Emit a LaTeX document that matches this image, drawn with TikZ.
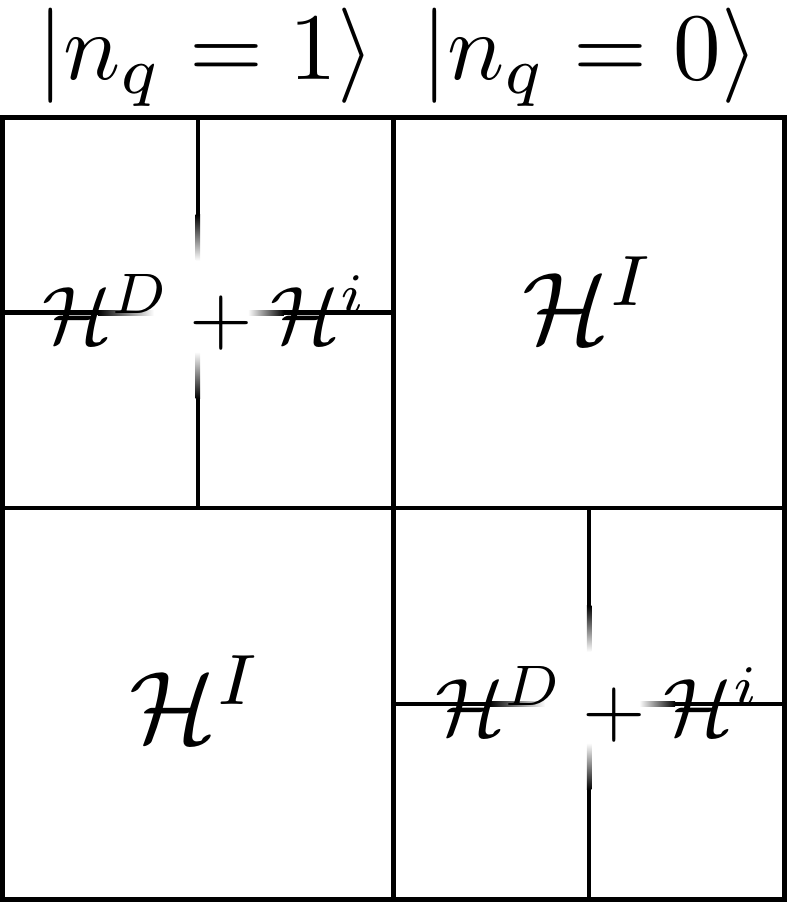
\documentclass[tikz,border=0pt]{standalone}
\usepackage{amsmath}
\tikzset{
    frame/.style={line width=1.15pt},
    fadeout/.style={left color=black,right color=white},
    fadein/.style={left color=white,right color=black},
    fadedown/.style={top color=black,bottom color=white},
    fadeup/.style={top color=white,bottom color=black},
    ket/.style={inner sep=0pt,anchor=base,scale=2.38},
    ham/.style={inner sep=0pt,anchor=base,scale=2.04},
    bigham/.style={inner sep=0pt,anchor=base,scale=2.55},
    }
\begin{document}
\begin{tikzpicture}[x=0.25pt,y=-0.25pt]
    \useasboundingbox (0,0) rectangle (787,902);

    % outer frame and the four blocks
    \draw[frame] (2.3,117.5) rectangle (784.7,899.7);
    \draw[frame] (393.5,117.5) -- (393.5,899.7);
    \draw[frame] (2.3,508) -- (784.7,508);

    % split blocks, lines faded round the sum
    \foreach \cx/\cy in {197.9/312.75, 589.1/703.9} {
        \draw[frame] (\cx-195.6,\cy) -- (\cx-100,\cy);
        \shade[fadeout] (\cx-100,\cy-2.3) rectangle (\cx-44,\cy+2.3);
        \shade[fadein] (\cx+50,\cy-2.3) rectangle (\cx+86,\cy+2.3);
        \draw[frame] (\cx+86,\cy) -- (\cx+195.6,\cy);
        \draw[frame] (\cx,\cy-195.25) -- (\cx,\cy-98);
        \shade[fadedown] (\cx-2.3,\cy-98) rectangle (\cx+2.3,\cy-52);
        \shade[fadeup] (\cx-2.3,\cy+39) rectangle (\cx+2.3,\cy+86);
        \draw[frame] (\cx,\cy+86) -- (\cx,\cy+195.8);
    }

    \node[ket] (one) at (206,79) {$|n_q=1\rangle$};
    \node[ket] (zero) at (590,79) {$|n_q=0\rangle$};

    \node[ham] (sumA) at (205,343) {$\mathcal{H}^D+\mathcal{H}^i$};
    \node[bigham] (intA) at (589,343) {$\mathcal{H}^I$};
    \node[bigham] (intB) at (196,742) {$\mathcal{H}^I$};
    \node[ham] (sumB) at (598,735) {$\mathcal{H}^D+\mathcal{H}^i$};
\end{tikzpicture}
\end{document}
